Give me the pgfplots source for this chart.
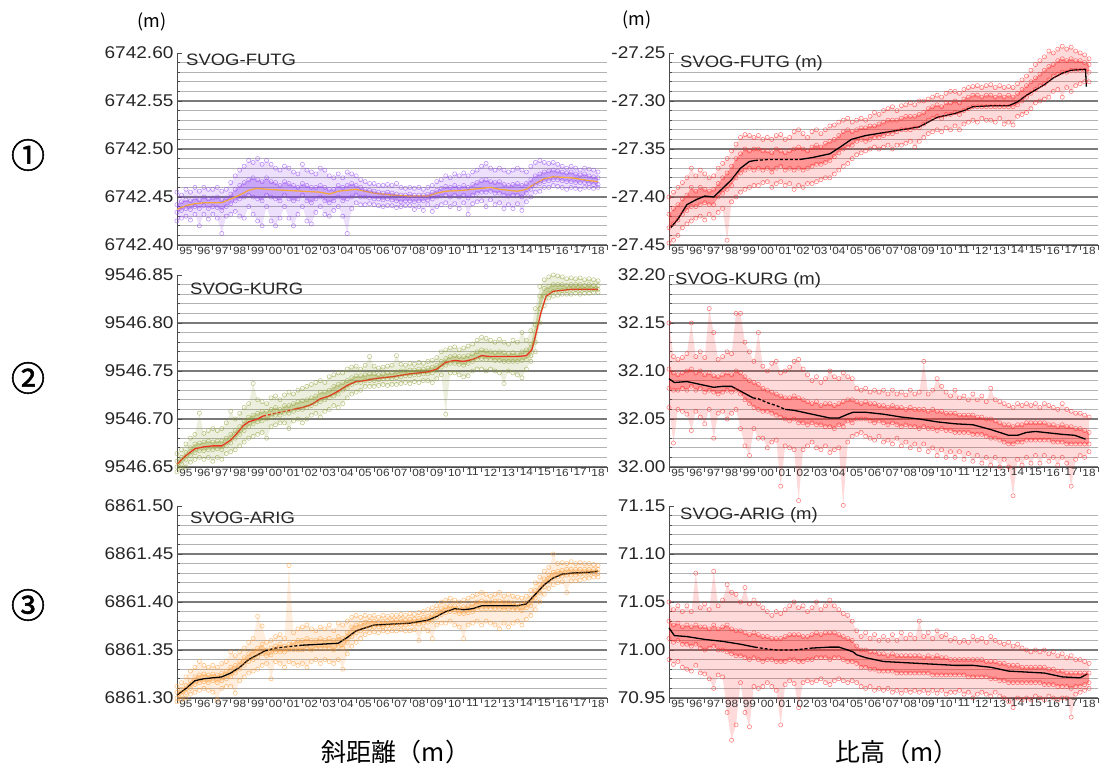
\documentclass[border=0pt]{standalone}
\usepackage{pgfplots}
\pgfplotsset{compat=1.18}
\usepackage{pgfplotstable}
\usepgfplotslibrary{fillbetween}
\usepackage{fontspec}
\setmainfont[FakeStretch=1.12]{Liberation Sans}
\newfontfamily\cjk{Noto Sans CJK JP}
\newfontfamily\cjkc[FakeBold=1.6]{Noto Sans CJK JP}

\definecolor{cPur}{HTML}{9147F2}
\definecolor{cPurT}{HTML}{F2A640}
\definecolor{cOli}{HTML}{93A23A}
\definecolor{cOliT}{HTML}{E8331E}
\definecolor{cOra}{HTML}{FF9A33}
\definecolor{cRed}{HTML}{FF2626}

% the fractional part of a value such as 6742.437 (integer part is constant in each left panel)
\def\fracpart#1.#2\relax{\def\pgfmathresult{0.#2}}
\pgfplotsset{
  fracy/.style={y coord trafo/.code={\edef\tmpv{##1}\expandafter\fracpart\tmpv\relax}},
  panel/.style={
    scale only axis, width=430pt, height=192pt,
    xmin=1995, xmax=2019,
    axis x line*=bottom, axis y line*=left,
    axis line style={black!70, line width=0.8pt, -},
    xtick={1995,...,2019}, xticklabels={},
    x tick style={yshift=-5pt},
    extra x ticks={1995.5,1996.5,...,2018.5},
    extra x tick labels={95,96,97,98,99,00,01,02,03,04,05,06,07,08,09,10,11,12,13,14,15,16,17,18},
    extra x tick style={major tick length=0pt},
    xticklabel style={font=\fontsize{10.5}{10.5}\selectfont, text=black!80, inner sep=1.5pt},
    yticklabel style={font=\fontsize{17}{17}\selectfont, text=black!85},
    tick align=inside, major tick length=5pt, minor tick length=3pt,
    tick style={black!70, line width=0.7pt},
    ymajorgrids, yminorgrids,
    major grid style={black!52, line width=1.1pt},
    minor grid style={black!30, line width=0.8pt},
    extra y tick style={grid=none},
    clip=false,
  },
  cmark/.style={only marks, mark=o, mark size=2.1pt, mark options={line width=0.5pt}, draw opacity=0.65, #1},
}
\newcommand{\cloud}[3]{%
  \addplot[name path=H#3, draw=none, forget plot] table[x=x,y=hi]{#1};
  \addplot[name path=O#3, draw=none, forget plot] table[x=x,y=lo]{#1};
  \addplot[name path=U#3, draw=none, forget plot] table[x=x,y=u]{#1};
  \addplot[name path=L#3, draw=none, forget plot] table[x=x,y=l]{#1};
  \addplot[fill=#2, fill opacity=0.17, draw=none, forget plot] fill between[of=H#3 and O#3];
  \addplot[fill=#2, fill opacity=0.38, draw=none, forget plot] fill between[of=U#3 and L#3];
  \addplot[cmark=#2] table[x=x,y=hi]{#1};
  \addplot[cmark=#2] table[x=x,y=u]{#1};
  \addplot[cmark=#2] table[x=x,y=l]{#1};
  \addplot[cmark=#2] table[x=x,y=lo]{#1};
}

% ---------- SVOG-FUTG slope distance ----------
\pgfplotstableread{
x hi u l lo
1995.00 6742.455 6742.442 6742.434 6742.425
1995.25 6742.452 6742.445 6742.436 6742.428
1995.50 6742.458 6742.447 6742.438 6742.430
1995.75 6742.455 6742.446 6742.437 6742.426
1996.00 6742.460 6742.449 6742.440 6742.432
1996.25 6742.456 6742.447 6742.438 6742.420
1996.50 6742.460 6742.450 6742.441 6742.432
1996.75 6742.458 6742.448 6742.438 6742.427
1997.00 6742.458 6742.449 6742.440 6742.432
1997.25 6742.460 6742.450 6742.439 6742.428
1997.50 6742.456 6742.447 6742.436 6742.412
1997.75 6742.458 6742.449 6742.440 6742.430
1998.00 6742.465 6742.453 6742.443 6742.432
1998.25 6742.472 6742.458 6742.446 6742.435
1998.50 6742.478 6742.462 6742.448 6742.430
1998.75 6742.482 6742.465 6742.450 6742.428
1999.00 6742.488 6742.468 6742.452 6742.440
1999.25 6742.486 6742.470 6742.450 6742.432
1999.50 6742.490 6742.468 6742.448 6742.425
1999.75 6742.484 6742.466 6742.446 6742.420
2000.00 6742.488 6742.470 6742.452 6742.440
2000.25 6742.484 6742.466 6742.450 6742.425
2000.50 6742.480 6742.465 6742.448 6742.420
2000.75 6742.478 6742.462 6742.446 6742.428
2001.00 6742.482 6742.466 6742.452 6742.440
2001.25 6742.480 6742.464 6742.448 6742.428
2001.50 6742.476 6742.462 6742.446 6742.420
2001.75 6742.474 6742.460 6742.448 6742.432
2002.00 6742.484 6742.464 6742.452 6742.440
2002.25 6742.478 6742.462 6742.446 6742.425
2002.50 6742.476 6742.460 6742.444 6742.422
2002.75 6742.474 6742.460 6742.448 6742.434
2003.00 6742.480 6742.462 6742.450 6742.440
2003.25 6742.478 6742.460 6742.446 6742.432
2003.50 6742.472 6742.458 6742.444 6742.430
2003.75 6742.470 6742.458 6742.446 6742.436
2004.00 6742.474 6742.462 6742.450 6742.440
2004.25 6742.470 6742.460 6742.446 6742.430
2004.50 6742.476 6742.462 6742.448 6742.412
2004.75 6742.474 6742.464 6742.450 6742.438
2005.00 6742.472 6742.462 6742.452 6742.444
2005.25 6742.468 6742.460 6742.450 6742.442
2005.50 6742.466 6742.458 6742.450 6742.442
2005.75 6742.464 6742.457 6742.449 6742.443
2006.00 6742.464 6742.456 6742.448 6742.442
2006.25 6742.462 6742.455 6742.448 6742.441
2006.50 6742.462 6742.454 6742.447 6742.440
2006.75 6742.463 6742.455 6742.448 6742.441
2007.00 6742.462 6742.454 6742.447 6742.441
2007.25 6742.464 6742.453 6742.446 6742.439
2007.50 6742.460 6742.452 6742.445 6742.440
2007.75 6742.459 6742.452 6742.446 6742.441
2008.00 6742.460 6742.453 6742.446 6742.441
2008.25 6742.459 6742.452 6742.445 6742.437
2008.50 6742.460 6742.452 6742.446 6742.440
2008.75 6742.458 6742.452 6742.446 6742.436
2009.00 6742.460 6742.453 6742.447 6742.442
2009.25 6742.462 6742.455 6742.448 6742.435
2009.50 6742.466 6742.457 6742.450 6742.440
2009.75 6742.468 6742.459 6742.451 6742.442
2010.00 6742.472 6742.461 6742.452 6742.444
2010.25 6742.470 6742.460 6742.450 6742.440
2010.50 6742.474 6742.462 6742.452 6742.443
2010.75 6742.472 6742.460 6742.450 6742.438
2011.00 6742.475 6742.462 6742.452 6742.444
2011.25 6742.472 6742.460 6742.449 6742.432
2011.50 6742.476 6742.463 6742.452 6742.443
2011.75 6742.478 6742.465 6742.454 6742.445
2012.00 6742.482 6742.467 6742.455 6742.446
2012.25 6742.485 6742.468 6742.455 6742.440
2012.50 6742.480 6742.466 6742.456 6742.447
2012.75 6742.478 6742.465 6742.454 6742.442
2013.00 6742.480 6742.466 6742.454 6742.444
2013.25 6742.478 6742.463 6742.452 6742.438
2013.50 6742.476 6742.462 6742.451 6742.442
2013.75 6742.478 6742.463 6742.452 6742.438
2014.00 6742.480 6742.464 6742.452 6742.443
2014.25 6742.478 6742.462 6742.450 6742.436
2014.50 6742.476 6742.464 6742.454 6742.445
2014.75 6742.482 6742.468 6742.458 6742.450
2015.00 6742.486 6742.472 6742.462 6742.455
2015.25 6742.488 6742.474 6742.464 6742.456
2015.50 6742.486 6742.476 6742.466 6742.460
2015.75 6742.485 6742.477 6742.467 6742.460
2016.00 6742.486 6742.478 6742.468 6742.462
2016.25 6742.484 6742.477 6742.468 6742.461
2016.50 6742.482 6742.476 6742.467 6742.460
2016.75 6742.480 6742.475 6742.466 6742.458
2017.00 6742.482 6742.476 6742.466 6742.460
2017.25 6742.480 6742.474 6742.465 6742.459
2017.50 6742.478 6742.473 6742.465 6742.458
2017.75 6742.480 6742.474 6742.465 6742.460
2018.00 6742.479 6742.472 6742.464 6742.460
2018.25 6742.478 6742.471 6742.463 6742.459
2018.50 6742.476 6742.470 6742.463 6742.460
}\sA
\pgfplotstableread{
x t
1995.0 6742.437
1995.5 6742.441
1996.0 6742.443
1996.5 6742.444
1997.0 6742.444
1997.5 6742.444
1998.0 6742.448
1998.5 6742.452
1999.0 6742.457
1999.5 6742.459
2000.0 6742.458
2001.0 6742.457
2002.0 6742.456
2003.0 6742.455
2003.5 6742.453
2004.0 6742.456
2004.5 6742.457
2005.0 6742.458
2005.5 6742.456
2006.0 6742.454
2007.0 6742.452
2008.0 6742.451
2009.0 6742.451
2009.5 6742.454
2010.0 6742.456
2011.0 6742.457
2012.0 6742.459
2012.5 6742.460
2013.0 6742.458
2013.5 6742.457
2014.0 6742.456
2014.5 6742.458
2015.0 6742.464
2015.5 6742.469
2016.0 6742.471
2017.0 6742.470
2018.0 6742.467
2018.5 6742.466
}\tA

% ---------- SVOG-FUTG height ----------
\pgfplotstableread{
x hi u l lo
1995.00 -27.400 -27.418 -27.432 -27.448
1995.25 -27.395 -27.412 -27.428 -27.445
1995.50 -27.390 -27.408 -27.424 -27.440
1995.75 -27.385 -27.402 -27.418 -27.432
1996.00 -27.380 -27.398 -27.414 -27.428
1996.25 -27.370 -27.390 -27.410 -27.425
1996.50 -27.378 -27.394 -27.410 -27.422
1996.75 -27.372 -27.390 -27.408 -27.420
1997.00 -27.376 -27.392 -27.406 -27.424
1997.25 -27.380 -27.394 -27.408 -27.418
1997.50 -27.378 -27.392 -27.408 -27.422
1997.75 -27.370 -27.386 -27.400 -27.416
1998.00 -27.365 -27.380 -27.396 -27.412
1998.25 -27.360 -27.375 -27.392 -27.445
1998.50 -27.352 -27.368 -27.388 -27.405
1998.75 -27.345 -27.360 -27.380 -27.400
1999.00 -27.338 -27.355 -27.375 -27.395
1999.25 -27.335 -27.350 -27.372 -27.392
1999.50 -27.336 -27.352 -27.370 -27.390
1999.75 -27.338 -27.350 -27.372 -27.388
2000.00 -27.336 -27.350 -27.370 -27.388
2000.25 -27.340 -27.352 -27.372 -27.385
2000.50 -27.338 -27.352 -27.370 -27.384
2000.75 -27.340 -27.354 -27.374 -27.390
2001.00 -27.336 -27.350 -27.370 -27.386
2001.25 -27.335 -27.352 -27.368 -27.384
2001.50 -27.340 -27.354 -27.372 -27.388
2001.75 -27.338 -27.352 -27.370 -27.386
2002.00 -27.332 -27.350 -27.372 -27.392
2002.25 -27.330 -27.348 -27.370 -27.388
2002.50 -27.334 -27.350 -27.372 -27.390
2002.75 -27.338 -27.352 -27.370 -27.386
2003.00 -27.332 -27.348 -27.368 -27.386
2003.25 -27.330 -27.346 -27.366 -27.384
2003.50 -27.334 -27.348 -27.366 -27.382
2003.75 -27.330 -27.344 -27.364 -27.380
2004.00 -27.326 -27.342 -27.362 -27.380
2004.25 -27.325 -27.340 -27.358 -27.376
2004.50 -27.322 -27.336 -27.354 -27.372
2004.75 -27.320 -27.332 -27.350 -27.368
2005.00 -27.318 -27.330 -27.348 -27.365
2005.25 -27.322 -27.332 -27.346 -27.360
2005.50 -27.320 -27.330 -27.342 -27.356
2005.75 -27.318 -27.328 -27.340 -27.354
2006.00 -27.320 -27.328 -27.342 -27.352
2006.25 -27.316 -27.326 -27.340 -27.350
2006.50 -27.312 -27.326 -27.338 -27.348
2006.75 -27.314 -27.324 -27.338 -27.350
2007.00 -27.310 -27.322 -27.336 -27.348
2007.25 -27.308 -27.320 -27.334 -27.346
2007.50 -27.306 -27.320 -27.334 -27.350
2007.75 -27.310 -27.320 -27.332 -27.346
2008.00 -27.305 -27.318 -27.330 -27.346
2008.25 -27.304 -27.316 -27.330 -27.344
2008.50 -27.302 -27.316 -27.330 -27.342
2008.75 -27.304 -27.316 -27.328 -27.348
2009.00 -27.300 -27.314 -27.328 -27.342
2009.25 -27.300 -27.312 -27.324 -27.338
2009.50 -27.298 -27.308 -27.320 -27.334
2009.75 -27.296 -27.306 -27.318 -27.332
2010.00 -27.294 -27.304 -27.316 -27.330
2010.25 -27.296 -27.306 -27.318 -27.332
2010.50 -27.292 -27.302 -27.314 -27.328
2010.75 -27.290 -27.302 -27.314 -27.330
2011.00 -27.290 -27.300 -27.312 -27.326
2011.25 -27.292 -27.302 -27.314 -27.330
2011.50 -27.288 -27.298 -27.310 -27.324
2011.75 -27.286 -27.296 -27.308 -27.322
2012.00 -27.285 -27.294 -27.306 -27.320
2012.25 -27.284 -27.294 -27.306 -27.322
2012.50 -27.286 -27.296 -27.306 -27.318
2012.75 -27.284 -27.294 -27.306 -27.320
2013.00 -27.283 -27.294 -27.306 -27.320
2013.25 -27.286 -27.296 -27.306 -27.322
2013.50 -27.284 -27.294 -27.306 -27.318
2013.75 -27.286 -27.296 -27.306 -27.324
2014.00 -27.285 -27.294 -27.306 -27.322
2014.25 -27.286 -27.296 -27.306 -27.325
2014.50 -27.282 -27.292 -27.304 -27.316
2014.75 -27.278 -27.288 -27.300 -27.314
2015.00 -27.274 -27.284 -27.296 -27.312
2015.25 -27.268 -27.280 -27.292 -27.308
2015.50 -27.262 -27.276 -27.288 -27.302
2015.75 -27.258 -27.272 -27.284 -27.300
2016.00 -27.254 -27.268 -27.282 -27.298
2016.25 -27.248 -27.264 -27.278 -27.296
2016.50 -27.250 -27.262 -27.274 -27.290
2016.75 -27.246 -27.258 -27.272 -27.288
2017.00 -27.243 -27.256 -27.270 -27.296
2017.25 -27.246 -27.258 -27.270 -27.286
2017.50 -27.244 -27.256 -27.268 -27.290
2017.75 -27.248 -27.258 -27.268 -27.284
2018.00 -27.250 -27.258 -27.268 -27.282
2018.25 -27.252 -27.260 -27.268 -27.280
2018.50 -27.256 -27.262 -27.270 -27.280
}\sB
\pgfplotstableread{
x t
1995.1 -27.432
1995.5 -27.423
1996.0 -27.408
1996.5 -27.403
1997.0 -27.399
1997.5 -27.400
1998.0 -27.391
1998.5 -27.382
1999.0 -27.370
1999.5 -27.363
1999.8 -27.362
2000.5 -27.361
2001.5 -27.361
2002.3 -27.361
2003.0 -27.359
2003.5 -27.357
2004.0 -27.355
2004.5 -27.349
2005.2 -27.340
2006.0 -27.336
2007.0 -27.333
2008.0 -27.330
2009.0 -27.327
2009.5 -27.322
2010.0 -27.317
2011.0 -27.313
2011.5 -27.310
2012.0 -27.306
2013.0 -27.305
2014.0 -27.305
2014.5 -27.301
2015.0 -27.294
2016.0 -27.283
2016.5 -27.276
2017.0 -27.271
2017.5 -27.268
2018.3 -27.267
2018.35 -27.285
}\tB

% ---------- SVOG-KURG slope distance ----------
\pgfplotstableread{
x hi u l lo
1995.00 9546.664 9546.656 9546.650 9546.645
1995.25 9546.668 9546.660 9546.653 9546.648
1995.50 9546.674 9546.665 9546.658 9546.650
1995.75 9546.680 9546.670 9546.662 9546.655
1996.00 9546.684 9546.674 9546.665 9546.658
1996.25 9546.706 9546.675 9546.667 9546.660
1996.50 9546.685 9546.676 9546.667 9546.658
1996.75 9546.688 9546.677 9546.668 9546.660
1997.00 9546.690 9546.676 9546.668 9546.656
1997.25 9546.688 9546.677 9546.669 9546.660
1997.50 9546.690 9546.677 9546.668 9546.658
1997.75 9546.696 9546.680 9546.672 9546.664
1998.00 9546.708 9546.684 9546.675 9546.666
1998.25 9546.700 9546.688 9546.680 9546.668
1998.50 9546.706 9546.692 9546.684 9546.672
1998.75 9546.712 9546.698 9546.688 9546.676
1999.00 9546.716 9546.702 9546.692 9546.680
1999.25 9546.737 9546.704 9546.695 9546.682
1999.50 9546.720 9546.706 9546.697 9546.684
1999.75 9546.718 9546.708 9546.698 9546.686
2000.00 9546.716 9546.708 9546.700 9546.680
2000.25 9546.722 9546.710 9546.702 9546.692
2000.50 9546.724 9546.712 9546.704 9546.694
2000.75 9546.720 9546.710 9546.704 9546.696
2001.00 9546.725 9546.714 9546.706 9546.696
2001.25 9546.728 9546.714 9546.706 9546.690
2001.50 9546.726 9546.716 9546.708 9546.698
2001.75 9546.730 9546.718 9546.710 9546.700
2002.00 9546.732 9546.719 9546.710 9546.696
2002.25 9546.734 9546.720 9546.712 9546.700
2002.50 9546.736 9546.722 9546.714 9546.704
2002.75 9546.738 9546.724 9546.716 9546.706
2003.00 9546.740 9546.728 9546.718 9546.702
2003.25 9546.738 9546.728 9546.720 9546.708
2003.50 9546.744 9546.730 9546.722 9546.710
2003.75 9546.746 9546.734 9546.724 9546.714
2004.00 9546.748 9546.736 9546.726 9546.712
2004.25 9546.748 9546.738 9546.730 9546.716
2004.50 9546.752 9546.740 9546.732 9546.722
2004.75 9546.754 9546.743 9546.736 9546.726
2005.00 9546.755 9546.745 9546.738 9546.728
2005.25 9546.752 9546.745 9546.738 9546.730
2005.50 9546.756 9546.746 9546.740 9546.734
2005.75 9546.765 9546.747 9546.740 9546.734
2006.00 9546.755 9546.747 9546.740 9546.734
2006.25 9546.753 9546.746 9546.741 9546.735
2006.50 9546.754 9546.747 9546.742 9546.736
2006.75 9546.755 9546.748 9546.742 9546.735
2007.00 9546.756 9546.748 9546.742 9546.736
2007.25 9546.766 9546.749 9546.743 9546.736
2007.50 9546.757 9546.750 9546.744 9546.737
2007.75 9546.756 9546.750 9546.745 9546.738
2008.00 9546.758 9546.751 9546.745 9546.737
2008.25 9546.757 9546.751 9546.746 9546.739
2008.50 9546.759 9546.752 9546.746 9546.738
2008.75 9546.758 9546.752 9546.747 9546.740
2009.00 9546.760 9546.753 9546.747 9546.740
2009.25 9546.761 9546.754 9546.748 9546.738
2009.50 9546.764 9546.756 9546.750 9546.742
2009.75 9546.770 9546.760 9546.754 9546.746
2010.00 9546.772 9546.763 9546.756 9546.705
2010.25 9546.774 9546.765 9546.758 9546.748
2010.50 9546.775 9546.766 9546.758 9546.748
2010.75 9546.772 9546.765 9546.757 9546.746
2011.00 9546.774 9546.765 9546.756 9546.744
2011.25 9546.776 9546.766 9546.758 9546.745
2011.50 9546.778 9546.768 9546.760 9546.750
2011.75 9546.782 9546.770 9546.762 9546.752
2012.00 9546.785 9546.772 9546.763 9546.752
2012.25 9546.784 9546.771 9546.762 9546.750
2012.50 9546.782 9546.770 9546.762 9546.752
2012.75 9546.780 9546.769 9546.761 9546.750
2013.00 9546.783 9546.770 9546.761 9546.748
2013.25 9546.780 9546.769 9546.760 9546.737
2013.50 9546.778 9546.768 9546.760 9546.750
2013.75 9546.782 9546.769 9546.760 9546.748
2014.00 9546.780 9546.768 9546.760 9546.746
2014.25 9546.790 9546.770 9546.761 9546.743
2014.50 9546.782 9546.772 9546.762 9546.752
2014.75 9546.792 9546.778 9546.766 9546.760
2015.00 9546.815 9546.798 9546.780 9546.770
2015.25 9546.838 9546.828 9546.815 9546.800
2015.50 9546.845 9546.836 9546.828 9546.818
2015.75 9546.848 9546.838 9546.831 9546.826
2016.00 9546.850 9546.840 9546.833 9546.828
2016.25 9546.849 9546.840 9546.834 9546.829
2016.50 9546.848 9546.840 9546.834 9546.830
2016.75 9546.846 9546.839 9546.834 9546.830
2017.00 9546.847 9546.840 9546.835 9546.830
2017.25 9546.846 9546.840 9546.835 9546.831
2017.50 9546.847 9546.840 9546.835 9546.830
2017.75 9546.845 9546.839 9546.835 9546.831
2018.00 9546.846 9546.840 9546.835 9546.831
2018.25 9546.845 9546.839 9546.835 9546.832
2018.50 9546.844 9546.839 9546.835 9546.832
}\sC
\pgfplotstableread{
x t
1995.0 9546.653
1995.5 9546.662
1996.0 9546.669
1996.5 9546.671
1997.0 9546.672
1997.5 9546.672
1998.0 9546.678
1998.3 9546.684
1998.7 9546.693
1999.0 9546.697
1999.5 9546.700
1999.8 9546.703
2000.5 9546.706
2001.0 9546.708
2001.5 9546.710
2002.0 9546.712
2002.5 9546.715
2003.0 9546.721
2003.5 9546.724
2004.0 9546.729
2004.5 9546.735
2005.0 9546.739
2005.5 9546.740
2006.0 9546.742
2007.0 9546.744
2008.0 9546.747
2009.0 9546.749
2009.5 9546.752
2010.0 9546.759
2010.5 9546.761
2011.0 9546.760
2011.5 9546.762
2012.0 9546.766
2012.5 9546.765
2013.0 9546.765
2014.0 9546.765
2014.5 9546.766
2014.8 9546.772
2015.0 9546.786
2015.3 9546.810
2015.6 9546.828
2016.0 9546.833
2016.5 9546.834
2017.0 9546.835
2018.0 9546.835
2018.5 9546.835
}\tC

% ---------- SVOG-KURG height ----------
\pgfplotstableread{
x hi u l lo
1995.00 32.150 32.102 32.082 32.062
1995.25 32.115 32.098 32.080 32.025
1995.50 32.112 32.096 32.080 32.060
1995.75 32.114 32.098 32.082 32.058
1996.00 32.118 32.100 32.080 32.055
1996.25 32.150 32.102 32.084 32.038
1996.50 32.115 32.098 32.080 32.058
1996.75 32.120 32.100 32.082 32.052
1997.00 32.114 32.096 32.078 32.045
1997.25 32.165 32.098 32.080 32.060
1997.50 32.140 32.095 32.078 32.030
1997.75 32.112 32.094 32.076 32.056
1998.00 32.115 32.096 32.078 32.058
1998.25 32.120 32.098 32.080 32.050
1998.50 32.118 32.096 32.078 32.056
1998.75 32.160 32.100 32.080 32.060
1999.00 32.160 32.098 32.076 32.040
1999.25 32.130 32.094 32.070 32.022
1999.50 32.120 32.090 32.066 32.012
1999.75 32.110 32.088 32.062 32.040
2000.00 32.140 32.086 32.060 32.030
2000.25 32.105 32.082 32.058 32.030
2000.50 32.100 32.080 32.058 32.020
2000.75 32.108 32.078 32.056 32.026
2001.00 32.110 32.076 32.054 32.028
2001.25 32.098 32.074 32.052 31.980
2001.50 32.100 32.072 32.050 32.022
2001.75 32.104 32.072 32.048 32.020
2002.00 32.110 32.074 32.050 32.018
2002.25 32.112 32.072 32.046 31.965
2002.50 32.102 32.070 32.046 32.018
2002.75 32.096 32.068 32.044 32.022
2003.00 32.090 32.066 32.046 32.026
2003.25 32.094 32.068 32.044 32.020
2003.50 32.088 32.064 32.044 32.018
2003.75 32.092 32.066 32.042 32.022
2004.00 32.100 32.066 32.042 32.015
2004.25 32.094 32.064 32.040 32.018
2004.50 32.092 32.066 32.044 32.020
2004.75 32.098 32.068 32.042 31.960
2005.00 32.094 32.070 32.048 32.026
2005.25 32.092 32.070 32.046 32.032
2005.50 32.082 32.068 32.050 32.034
2005.75 32.080 32.066 32.050 32.036
2006.00 32.082 32.068 32.050 32.032
2006.25 32.078 32.066 32.048 32.030
2006.50 32.080 32.066 32.046 32.028
2006.75 32.078 32.064 32.048 32.032
2007.00 32.080 32.064 32.046 32.026
2007.25 32.076 32.062 32.044 32.028
2007.50 32.080 32.064 32.046 32.024
2007.75 32.076 32.062 32.044 32.030
2008.00 32.078 32.062 32.042 32.022
2008.25 32.075 32.060 32.044 32.026
2008.50 32.080 32.062 32.042 32.020
2008.75 32.076 32.060 32.042 32.024
2009.00 32.078 32.060 32.040 32.018
2009.25 32.110 32.060 32.042 32.024
2009.50 32.076 32.058 32.040 32.016
2009.75 32.080 32.060 32.040 32.020
2010.00 32.092 32.058 32.038 32.012
2010.25 32.084 32.058 32.040 32.018
2010.50 32.078 32.056 32.038 32.010
2010.75 32.074 32.056 32.038 32.016
2011.00 32.080 32.056 32.036 32.010
2011.25 32.072 32.054 32.036 32.016
2011.50 32.074 32.054 32.036 32.008
2011.75 32.070 32.054 32.036 32.014
2012.00 32.076 32.054 32.034 32.006
2012.25 32.070 32.052 32.034 32.012
2012.50 32.074 32.052 32.034 32.004
2012.75 32.068 32.050 32.032 32.010
2013.00 32.082 32.050 32.030 32.002
2013.25 32.070 32.048 32.030 32.010
2013.50 32.068 32.046 32.028 32.000
2013.75 32.066 32.044 32.026 32.008
2014.00 32.064 32.044 32.024 32.000
2014.25 32.062 32.042 32.024 31.970
2014.50 32.066 32.044 32.026 32.008
2014.75 32.064 32.044 32.026 32.002
2015.00 32.066 32.046 32.028 32.010
2015.25 32.064 32.046 32.028 32.004
2015.50 32.066 32.046 32.028 32.012
2015.75 32.062 32.046 32.028 32.004
2016.00 32.066 32.046 32.028 32.012
2016.25 32.064 32.044 32.028 32.006
2016.50 32.062 32.044 32.026 32.010
2016.75 32.060 32.042 32.026 32.002
2017.00 32.066 32.044 32.026 32.010
2017.25 32.060 32.042 32.024 32.004
2017.50 32.058 32.042 32.024 31.980
2017.75 32.056 32.040 32.024 32.008
2018.00 32.056 32.040 32.024 32.012
2018.25 32.054 32.038 32.024 32.010
2018.50 32.052 32.036 32.024 32.016
}\sD
\pgfplotstableread{
x t
1995.0 32.092
1995.3 32.088
1996.0 32.089
1997.0 32.085
1997.5 32.083
1998.0 32.084
1998.5 32.084
1999.0 32.079
1999.5 32.074
1999.7 32.072
2000.0 32.071
2000.5 32.067
2001.0 32.064
2001.5 32.060
2002.0 32.059
2003.0 32.055
2004.0 32.051
2004.5 32.051
2005.0 32.055
2005.3 32.057
2006.0 32.057
2007.0 32.055
2008.0 32.052
2009.0 32.050
2010.0 32.047
2011.0 32.045
2012.0 32.044
2013.0 32.039
2014.0 32.033
2014.5 32.033
2015.0 32.036
2015.5 32.037
2016.0 32.036
2017.0 32.034
2017.7 32.033
2018.3 32.029
}\tD

% ---------- SVOG-ARIG slope distance ----------
\pgfplotstableread{
x hi u l lo
1995.00 6861.312 6861.306 6861.300 6861.296
1995.25 6861.316 6861.309 6861.303 6861.298
1995.50 6861.322 6861.313 6861.306 6861.300
1995.75 6861.328 6861.318 6861.310 6861.304
1996.00 6861.332 6861.322 6861.314 6861.306
1996.25 6861.338 6861.324 6861.316 6861.308
1996.50 6861.334 6861.325 6861.317 6861.310
1996.75 6861.332 6861.324 6861.316 6861.308
1997.00 6861.334 6861.325 6861.318 6861.306
1997.25 6861.332 6861.324 6861.316 6861.298
1997.50 6861.336 6861.326 6861.318 6861.310
1997.75 6861.338 6861.328 6861.320 6861.312
1998.00 6861.348 6861.332 6861.322 6861.312
1998.25 6861.344 6861.334 6861.326 6861.305
1998.50 6861.348 6861.338 6861.330 6861.318
1998.75 6861.352 6861.342 6861.334 6861.322
1999.00 6861.358 6861.346 6861.338 6861.326
1999.25 6861.362 6861.349 6861.340 6861.328
1999.50 6861.385 6861.352 6861.343 6861.330
1999.75 6861.375 6861.356 6861.346 6861.334
2000.00 6861.358 6861.350 6861.344 6861.336
2000.25 6861.360 6861.352 6861.345 6861.320
2000.50 6861.364 6861.354 6861.348 6861.338
2000.75 6861.366 6861.356 6861.348 6861.336
2001.00 6861.362 6861.354 6861.348 6861.332
2001.25 6861.438 6861.356 6861.350 6861.338
2001.50 6861.368 6861.358 6861.350 6861.336
2001.75 6861.372 6861.360 6861.350 6861.334
2002.00 6861.374 6861.360 6861.350 6861.336
2002.25 6861.376 6861.362 6861.352 6861.332
2002.50 6861.372 6861.360 6861.350 6861.338
2002.75 6861.370 6861.360 6861.352 6861.340
2003.00 6861.374 6861.362 6861.352 6861.336
2003.25 6861.372 6861.360 6861.352 6861.340
2003.50 6861.376 6861.362 6861.352 6861.338
2003.75 6861.370 6861.360 6861.350 6861.336
2004.00 6861.378 6861.364 6861.354 6861.340
2004.25 6861.376 6861.362 6861.352 6861.330
2004.50 6861.380 6861.368 6861.358 6861.346
2004.75 6861.384 6861.374 6861.364 6861.354
2005.00 6861.386 6861.376 6861.368 6861.358
2005.25 6861.384 6861.377 6861.370 6861.362
2005.50 6861.386 6861.379 6861.372 6861.366
2005.75 6861.385 6861.380 6861.373 6861.368
2006.00 6861.386 6861.380 6861.374 6861.369
2006.25 6861.384 6861.379 6861.374 6861.368
2006.50 6861.386 6861.380 6861.374 6861.370
2006.75 6861.385 6861.380 6861.375 6861.369
2007.00 6861.386 6861.381 6861.375 6861.370
2007.25 6861.386 6861.381 6861.376 6861.370
2007.50 6861.387 6861.382 6861.376 6861.371
2007.75 6861.386 6861.381 6861.376 6861.370
2008.00 6861.388 6861.382 6861.377 6861.370
2008.25 6861.387 6861.382 6861.377 6861.371
2008.50 6861.389 6861.383 6861.377 6861.360
2008.75 6861.390 6861.384 6861.378 6861.372
2009.00 6861.392 6861.385 6861.379 6861.370
2009.25 6861.394 6861.387 6861.380 6861.362
2009.50 6861.396 6861.390 6861.384 6861.376
2009.75 6861.400 6861.393 6861.387 6861.378
2010.00 6861.402 6861.395 6861.389 6861.378
2010.25 6861.404 6861.396 6861.390 6861.380
2010.50 6861.402 6861.396 6861.390 6861.376
2010.75 6861.400 6861.394 6861.388 6861.374
2011.00 6861.402 6861.395 6861.388 6861.362
2011.25 6861.404 6861.396 6861.389 6861.376
2011.50 6861.406 6861.398 6861.390 6861.378
2011.75 6861.408 6861.400 6861.392 6861.380
2012.00 6861.410 6861.401 6861.393 6861.376
2012.25 6861.408 6861.400 6861.393 6861.380
2012.50 6861.406 6861.400 6861.393 6861.378
2012.75 6861.408 6861.401 6861.393 6861.376
2013.00 6861.410 6861.401 6861.393 6861.372
2013.25 6861.406 6861.400 6861.392 6861.378
2013.50 6861.408 6861.400 6861.393 6861.374
2013.75 6861.406 6861.399 6861.392 6861.378
2014.00 6861.405 6861.398 6861.392 6861.380
2014.25 6861.404 6861.398 6861.391 6861.376
2014.50 6861.406 6861.400 6861.394 6861.382
2014.75 6861.412 6861.404 6861.396 6861.386
2015.00 6861.420 6861.412 6861.404 6861.392
2015.25 6861.426 6861.418 6861.410 6861.400
2015.50 6861.432 6861.424 6861.416 6861.408
2015.75 6861.436 6861.428 6861.421 6861.414
2016.00 6861.450 6861.431 6861.424 6861.418
2016.25 6861.440 6861.432 6861.426 6861.420
2016.50 6861.441 6861.433 6861.427 6861.421
2016.75 6861.440 6861.434 6861.428 6861.410
2017.00 6861.442 6861.434 6861.428 6861.422
2017.25 6861.440 6861.434 6861.428 6861.422
2017.50 6861.441 6861.434 6861.429 6861.423
2017.75 6861.440 6861.434 6861.429 6861.424
2018.00 6861.440 6861.434 6861.430 6861.425
2018.25 6861.439 6861.434 6861.430 6861.426
2018.50 6861.438 6861.434 6861.430 6861.426
}\sE
\pgfplotstableread{
x t
1995.0 6861.303
1995.5 6861.310
1996.0 6861.318
1996.5 6861.320
1997.0 6861.321
1997.5 6861.322
1998.0 6861.326
1998.5 6861.332
1999.0 6861.340
1999.5 6861.345
1999.9 6861.349
2000.5 6861.352
2001.0 6861.353
2001.5 6861.354
2002.0 6861.355
2003.0 6861.356
2004.0 6861.357
2004.5 6861.363
2005.0 6861.370
2005.5 6861.373
2006.0 6861.376
2007.0 6861.377
2008.0 6861.378
2009.0 6861.381
2009.5 6861.385
2010.0 6861.390
2010.5 6861.393
2011.0 6861.392
2011.5 6861.393
2012.0 6861.396
2013.0 6861.396
2014.0 6861.396
2014.5 6861.398
2015.0 6861.408
2015.5 6861.418
2016.0 6861.425
2016.5 6861.429
2017.0 6861.430
2018.0 6861.431
2018.5 6861.432
}\tE

% ---------- SVOG-ARIG height ----------
\pgfplotstableread{
x hi u l lo
1995.00 71.050 71.030 71.012 70.990
1995.25 71.042 71.026 71.008 70.985
1995.50 71.046 71.028 71.010 70.988
1995.75 71.040 71.024 71.006 70.982
1996.00 71.046 71.026 71.006 70.980
1996.25 71.040 71.024 71.004 70.978
1996.50 71.080 71.026 71.006 70.984
1996.75 71.044 71.024 71.002 70.976
1997.00 71.048 71.024 71.000 70.975
1997.25 71.042 71.022 71.002 70.970
1997.50 71.082 71.026 71.004 70.960
1997.75 71.046 71.022 71.000 70.974
1998.00 71.052 71.024 71.000 70.972
1998.25 71.068 71.026 70.998 70.935
1998.50 71.060 71.022 70.996 70.906
1998.75 71.058 71.020 70.994 70.922
1999.00 71.050 71.020 70.994 70.966
1999.25 71.065 71.018 70.992 70.935
1999.50 71.048 71.016 70.990 70.920
1999.75 71.052 71.018 70.992 70.962
2000.00 71.048 71.016 70.990 70.960
2000.25 71.044 71.014 70.988 70.962
2000.50 71.040 71.014 70.990 70.966
2000.75 71.036 71.012 70.990 70.962
2001.00 71.040 71.012 70.988 70.958
2001.25 71.038 71.012 70.988 70.922
2001.50 71.042 71.014 70.988 70.964
2001.75 71.046 71.016 70.990 70.968
2002.00 71.050 71.016 70.990 70.965
2002.25 71.044 71.016 70.988 70.940
2002.50 71.046 71.014 70.988 70.966
2002.75 71.040 71.014 70.990 70.968
2003.00 71.044 71.016 70.990 70.966
2003.25 71.050 71.018 70.992 70.968
2003.50 71.042 71.016 70.992 70.970
2003.75 71.046 71.018 70.992 70.966
2004.00 71.052 71.018 70.990 70.964
2004.25 71.046 71.018 70.992 70.968
2004.50 71.042 71.016 70.992 70.970
2004.75 71.038 71.014 70.990 70.968
2005.00 71.036 71.012 70.988 70.966
2005.25 71.030 71.010 70.988 70.968
2005.50 71.020 71.004 70.986 70.966
2005.75 71.014 71.000 70.982 70.962
2006.00 71.018 71.000 70.982 70.960
2006.25 71.012 70.998 70.980 70.962
2006.50 71.016 70.998 70.980 70.958
2006.75 71.010 70.996 70.978 70.960
2007.00 71.014 70.996 70.978 70.958
2007.25 71.010 70.994 70.978 70.960
2007.50 71.016 70.996 70.978 70.956
2007.75 71.010 70.994 70.976 70.958
2008.00 71.018 70.994 70.976 70.955
2008.25 71.012 70.994 70.976 70.958
2008.50 71.016 70.994 70.976 70.956
2008.75 71.012 70.994 70.976 70.958
2009.00 71.030 70.994 70.976 70.956
2009.25 71.014 70.992 70.976 70.958
2009.50 71.018 70.994 70.976 70.955
2009.75 71.012 70.992 70.974 70.958
2010.00 71.020 70.994 70.974 70.955
2010.25 71.014 70.992 70.974 70.958
2010.50 71.016 70.992 70.974 70.954
2010.75 71.010 70.990 70.974 70.956
2011.00 71.012 70.990 70.974 70.956
2011.25 71.008 70.990 70.974 70.958
2011.50 71.010 70.990 70.974 70.954
2011.75 71.008 70.990 70.972 70.956
2012.00 71.014 70.990 70.972 70.950
2012.25 71.010 70.990 70.972 70.954
2012.50 71.012 70.990 70.972 70.956
2012.75 71.008 70.988 70.972 70.954
2013.00 71.014 70.988 70.970 70.952
2013.25 71.010 70.988 70.970 70.956
2013.50 71.008 70.986 70.968 70.952
2013.75 71.006 70.986 70.968 70.950
2014.00 71.008 70.984 70.966 70.946
2014.25 71.004 70.984 70.966 70.940
2014.50 71.006 70.984 70.966 70.950
2014.75 71.002 70.982 70.966 70.948
2015.00 71.000 70.982 70.966 70.950
2015.25 70.998 70.982 70.966 70.948
2015.50 71.000 70.982 70.966 70.952
2015.75 70.998 70.982 70.966 70.950
2016.00 71.000 70.982 70.964 70.948
2016.25 70.996 70.980 70.964 70.952
2016.50 70.998 70.980 70.964 70.950
2016.75 70.994 70.978 70.962 70.948
2017.00 70.996 70.978 70.962 70.950
2017.25 70.992 70.976 70.962 70.950
2017.50 70.994 70.976 70.960 70.930
2017.75 70.990 70.976 70.962 70.954
2018.00 70.990 70.976 70.962 70.956
2018.25 70.988 70.976 70.964 70.958
2018.50 70.986 70.976 70.966 70.960
}\sF
\pgfplotstableread{
x t
1995.0 71.023
1995.3 71.015
1996.0 71.014
1997.0 71.011
1998.0 71.009
1999.0 71.006
1999.8 71.003
2000.5 71.001
2001.0 71.000
2002.0 71.000
2003.0 71.002
2004.0 71.003
2004.5 71.003
2005.0 71.000
2005.3 70.998
2005.5 70.995
2006.0 70.992
2007.0 70.988
2008.0 70.987
2009.0 70.986
2010.0 70.985
2011.0 70.984
2012.0 70.984
2013.0 70.982
2014.0 70.978
2015.0 70.977
2016.0 70.976
2017.0 70.972
2018.0 70.971
2018.4 70.975
}\tF

\begin{document}
\begin{tikzpicture}
\path (0,0) rectangle (1104pt,770pt);

% ===== Row 1 left =====
\begin{axis}[panel, fracy, at={(177pt,525pt)}, anchor=south west,
  ymin=6742.40, ymax=6742.60,
  ytick={6742.40,6742.45,6742.50,6742.55}, yticklabels={6742.40,6742.45,6742.50,6742.55},
  minor ytick={6742.41,6742.42,6742.43,6742.44,6742.46,6742.47,6742.48,6742.49,6742.51,6742.52,6742.53,6742.54,6742.56,6742.57,6742.58,6742.59},
  extra y ticks={6742.60}, extra y tick labels={6742.60}]
\cloud{\sA}{cPur}{a}
\addplot[cPurT, line width=1.3pt] table[x=x,y=t]{\tA};
\end{axis}

% ===== Row 1 right =====
\begin{axis}[panel, width=429pt, at={(669pt,525pt)}, anchor=south west,
  ymin=-27.45, ymax=-27.25,
  ytick={-27.45,-27.40,-27.35,-27.30}, yticklabels={-27.45,-27.40,-27.35,-27.30},
  minor ytick={-27.44,-27.43,-27.42,-27.41,-27.39,-27.38,-27.37,-27.36,-27.34,-27.33,-27.32,-27.31,-27.29,-27.28,-27.27,-27.26},
  extra y ticks={-27.25}, extra y tick labels={-27.25}]
\cloud{\sB}{cRed}{b}
\addplot[black, line width=1.3pt, restrict x to domain=1995:1999.8] table[x=x,y=t]{\tB};
\addplot[black, line width=1.3pt, dash pattern=on 3pt off 2pt, restrict x to domain=1999.8:2002.3] table[x=x,y=t]{\tB};
\addplot[black, line width=1.3pt, restrict x to domain=2002.3:2019] table[x=x,y=t]{\tB};
\end{axis}

% ===== Row 2 left =====
\begin{axis}[panel, fracy, at={(177pt,303pt)}, anchor=south west,
  ymin=9546.65, ymax=9546.85,
  ytick={9546.65,9546.70,9546.75,9546.80}, yticklabels={9546.65,9546.70,9546.75,9546.80},
  minor ytick={9546.66,9546.67,9546.68,9546.69,9546.71,9546.72,9546.73,9546.74,9546.76,9546.77,9546.78,9546.79,9546.81,9546.82,9546.83,9546.84},
  extra y ticks={9546.85}, extra y tick labels={9546.85}]
\cloud{\sC}{cOli}{c}
\addplot[cOliT, line width=1.3pt, restrict x to domain=1995:1999.8] table[x=x,y=t]{\tC};
\addplot[cOliT, line width=1.3pt, dash pattern=on 3pt off 2pt, restrict x to domain=1999.8:2001.5] table[x=x,y=t]{\tC};
\addplot[cOliT, line width=1.3pt, restrict x to domain=2001.5:2019] table[x=x,y=t]{\tC};
\end{axis}

% ===== Row 2 right =====
\begin{axis}[panel, width=429pt, at={(669pt,303pt)}, anchor=south west,
  ymin=32.00, ymax=32.20,
  ytick={32.00,32.05,32.10,32.15}, yticklabels={32.00,32.05,32.10,32.15},
  minor ytick={32.01,32.02,32.03,32.04,32.06,32.07,32.08,32.09,32.11,32.12,32.13,32.14,32.16,32.17,32.18,32.19},
  extra y ticks={32.20}, extra y tick labels={32.20}]
\cloud{\sD}{cRed}{d}
\addplot[black, line width=1.3pt, restrict x to domain=1995:1999.7] table[x=x,y=t]{\tD};
\addplot[black, line width=1.3pt, dash pattern=on 3pt off 2pt, restrict x to domain=1999.7:2001.5] table[x=x,y=t]{\tD};
\addplot[black, line width=1.3pt, restrict x to domain=2001.5:2019] table[x=x,y=t]{\tD};
\end{axis}

% ===== Row 3 left =====
\begin{axis}[panel, fracy, at={(177pt,72pt)}, anchor=south west,
  ymin=6861.30, ymax=6861.50,
  ytick={6861.30,6861.35,6861.40,6861.45}, yticklabels={6861.30,6861.35,6861.40,6861.45},
  minor ytick={6861.31,6861.32,6861.33,6861.34,6861.36,6861.37,6861.38,6861.39,6861.41,6861.42,6861.43,6861.44,6861.46,6861.47,6861.48,6861.49},
  extra y ticks={6861.50}, extra y tick labels={6861.50}]
\cloud{\sE}{cOra}{e}
\addplot[black, line width=1.3pt, restrict x to domain=1995:1999.9] table[x=x,y=t]{\tE};
\addplot[black, line width=1.3pt, dash pattern=on 3pt off 2pt, restrict x to domain=1999.9:2002.0] table[x=x,y=t]{\tE};
\addplot[black, line width=1.3pt, restrict x to domain=2002.0:2019] table[x=x,y=t]{\tE};
\end{axis}

% ===== Row 3 right =====
\begin{axis}[panel, width=429pt, at={(669pt,72pt)}, anchor=south west,
  ymin=70.95, ymax=71.15,
  ytick={70.95,71.00,71.05,71.10}, yticklabels={70.95,71.00,71.05,71.10},
  minor ytick={70.96,70.97,70.98,70.99,71.01,71.02,71.03,71.04,71.06,71.07,71.08,71.09,71.11,71.12,71.13,71.14},
  extra y ticks={71.15}, extra y tick labels={71.15}]
\cloud{\sF}{cRed}{f}
\addplot[black, line width=1.3pt, restrict x to domain=1995:1999.8] table[x=x,y=t]{\tF};
\addplot[black, line width=1.3pt, dash pattern=on 3pt off 2pt, restrict x to domain=1999.8:2003.0] table[x=x,y=t]{\tF};
\addplot[black, line width=1.3pt, restrict x to domain=2003.0:2019] table[x=x,y=t]{\tF};
\end{axis}

% ----- panel titles -----
\begin{scope}[every node/.style={anchor=west, inner sep=0pt, font=\fontsize{16.5}{16.5}\selectfont, text=black!85}]
\node at (186pt,710pt) {SVOG-FUTG};
\node at (680pt,707pt) {SVOG-FUTG (m)};
\node at (190pt,481pt) {SVOG-KURG};
\node at (675pt,490pt) {SVOG-KURG (m)};
\node at (190pt,252pt) {SVOG-ARIG};
\node at (680pt,255pt) {SVOG-ARIG (m)};
\end{scope}

% ----- units, row numbers, column labels -----
\node[font=\cjk\fontsize{18}{18}\selectfont] at (152pt,748pt) {(m)};
\node[font=\cjk\fontsize{18}{18}\selectfont] at (637pt,750pt) {(m)};
\node[font=\cjkc\fontsize{34}{34}\selectfont] at (28pt,615pt) {①};
\node[font=\cjkc\fontsize{34}{34}\selectfont] at (28pt,392pt) {②};
\node[font=\cjkc\fontsize{34}{34}\selectfont] at (28pt,165pt) {③};
\node[font=\cjk\fontsize{25}{25}\selectfont] at (396pt,18pt) {斜距離（m）};
\node[font=\cjk\fontsize{25}{25}\selectfont] at (897pt,18pt) {比高（m）};
\end{tikzpicture}
\end{document}
